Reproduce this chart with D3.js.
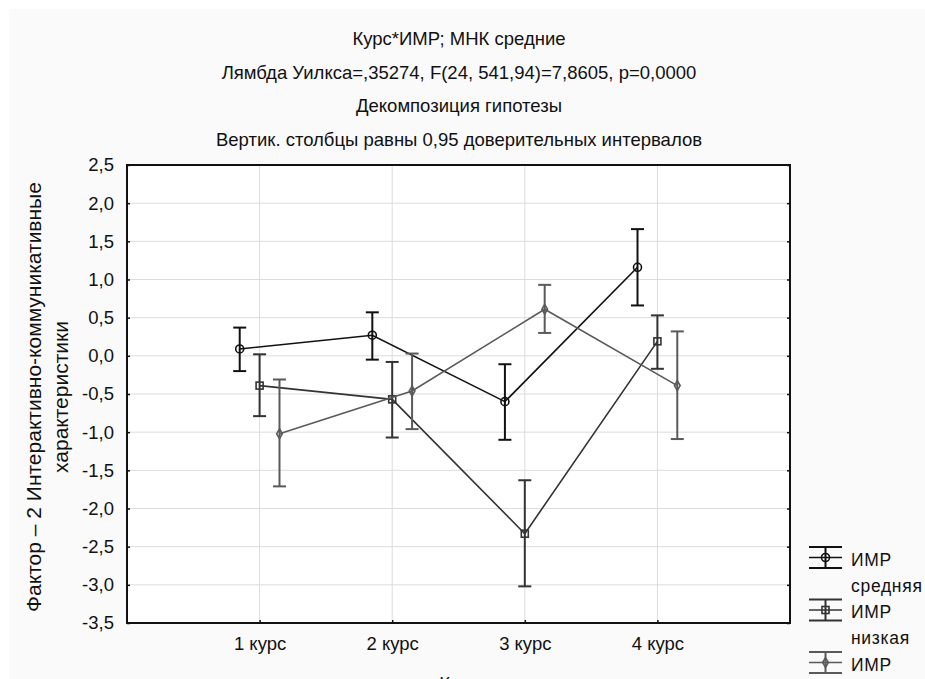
<!DOCTYPE html>
<html>
<head>
<meta charset="utf-8">
<script src="https://cdn.jsdelivr.net/npm/d3@7"></script>
<style>
  body { margin: 0; background: #fff; }
  text { font-family: "Liberation Sans", Arial, sans-serif; fill: #111; }
</style>
</head>
<body>
<div id="chart"></div>
<script>
// values
var courses = ["1 курс", "2 курс", "3 курс", "4 курс"];
var yTicks = [2.5, 2.0, 1.5, 1.0, 0.5, 0.0, -0.5, -1.0, -1.5, -2.0, -2.5, -3.0, -3.5];

var titleLines = [
  "Курс*ИМР; МНК средние",
  "Лямбда Уилкса=,35274, F(24, 541,94)=7,8605, p=0,0000",
  "Декомпозиция гипотезы",
  "Вертик. столбцы равны 0,95 доверительных интервалов"
];

// ИМР средняя
var midMean = [0.09, 0.27, -0.60, 1.16];
var midLow = [-0.20, -0.05, -1.10, 0.66];
var midHigh = [0.37, 0.57, -0.11, 1.66];
// ИМР низкая
var lowMean = [-0.39, -0.57, -2.33, 0.19];
var lowLow = [-0.79, -1.07, -3.02, -0.17];
var lowHigh = [0.02, -0.08, -1.63, 0.53];
// ИМР высокая
var highMean = [-1.02, -0.46, 0.61, -0.39];
var highLow = [-1.71, -0.96, 0.30, -1.09];
var highHigh = [-0.31, 0.03, 0.93, 0.32];

var width = 925;
var height = 679;
// plot frame (don't call it "top": window.top is read-only)
var plotLeft = 127, plotRight = 790, plotTop = 165, plotBottom = 623;
var fontSize = "18.5px";

var series = [
  {name: ["ИМР", "средняя"], mean: midMean, lo: midLow, hi: midHigh, color: "#111", shape: "circle", shift: -0.15},
  {name: ["ИМР", "низкая"], mean: lowMean, lo: lowLow, hi: lowHigh, color: "#333", shape: "square", shift: 0},
  {name: ["ИМР", "высокая"], mean: highMean, lo: highLow, hi: highHigh, color: "#5a5a5a", shape: "diamond", shift: 0.15}
];

var svg = d3.select("#chart").append("svg")
    .attr("width", width)
    .attr("height", height);

svg.append("rect").attr("x", 9).attr("y", 9)
   .attr("width", width - 9).attr("height", height - 9)
   .style("fill", "#fafafa");

var x = d3.scaleLinear().domain([0, 5]).range([plotLeft, plotRight]);
var y = d3.scaleLinear().domain([-3.5, 2.5]).range([plotBottom, plotTop]);

svg.append("rect").attr("x", plotLeft).attr("y", plotTop)
   .attr("width", plotRight - plotLeft).attr("height", plotBottom - plotTop)
   .style("fill", "#fff");

function fmt(v) {
  return d3.format(".1f")(v).replace(".", ",").replace("−", "-");
}

// grid lines
var grid = svg.append("g");
grid.selectAll(".gy").data(yTicks.slice(1, -1)).enter().append("line")
    .attr("x1", plotLeft).attr("x2", plotRight)
    .attr("y1", function(d) { return y(d); }).attr("y2", function(d) { return y(d); })
    .style("stroke", "#dcdcdc").style("stroke-width", 1);
grid.selectAll(".gx").data(courses).enter().append("line")
    .attr("x1", function(d, i) { return x(i + 1); }).attr("x2", function(d, i) { return x(i + 1); })
    .attr("y1", plotTop).attr("y2", plotBottom)
    .style("stroke", "#dcdcdc").style("stroke-width", 1);

// axes
var yAxis = d3.axisLeft(y).tickValues(yTicks).tickSize(-3).tickPadding(13).tickFormat(fmt);
var gy = svg.append("g").attr("transform", "translate(" + plotLeft + ",0)").call(yAxis);
var gy2 = svg.append("g").attr("transform", "translate(" + plotRight + ",0)")
    .call(d3.axisRight(y).tickValues(yTicks).tickSize(-3).tickFormat(""));

var xAxis = d3.axisBottom(d3.scalePoint().domain(courses).range([x(1), x(4)]))
    .tickSize(-3).tickPadding(14);
var gx = svg.append("g").attr("transform", "translate(0," + plotBottom + ")").call(xAxis);

[gy, gy2, gx].forEach(function(g) {
  g.select(".domain").remove();
  g.selectAll(".tick line").style("stroke", "#111").style("stroke-width", 1.5);
  g.selectAll("text").style("font-size", fontSize).style("fill", "#111");
});

svg.append("rect").attr("x", plotLeft).attr("y", plotTop)
   .attr("width", plotRight - plotLeft).attr("height", plotBottom - plotTop)
   .style("fill", "none").style("stroke", "#111").style("stroke-width", 2);

// titles
svg.selectAll(".title").data(titleLines).enter().append("text")
   .attr("x", 459).attr("y", function(d, i) { return 45 + i * 33.5; })
   .attr("text-anchor", "middle")
   .style("font-size", fontSize)
   .text(function(d) { return d; });

// axis titles
var yl = svg.append("text").attr("transform", "translate(0,397) rotate(-90)")
   .attr("text-anchor", "middle").style("font-size", "21px");
yl.append("tspan").attr("x", 0).attr("y", 41).text("Фактор – 2 Интерактивно-коммуникативные");
yl.append("tspan").attr("x", 0).attr("y", 68).text("характеристики");

svg.append("text").attr("x", 459).attr("y", 690).attr("text-anchor", "middle")
   .style("font-size", fontSize).text("Курс");

// markers
function drawMarker(g, shape, cx, cy, color) {
  if (shape === "circle") {
    g.append("circle").attr("cx", cx).attr("cy", cy).attr("r", 4)
     .style("fill", "none").style("stroke", color).style("stroke-width", 1.6);
  } else if (shape === "square") {
    g.append("rect").attr("x", cx - 3.5).attr("y", cy - 3.5).attr("width", 7).attr("height", 7)
     .style("fill", "none").style("stroke", color).style("stroke-width", 1.6);
  } else {
    g.append("path").attr("d", d3.symbol().type(d3.symbolDiamond).size(28)())
     .attr("transform", "translate(" + cx + "," + cy + ")")
     .style("fill", "none").style("stroke", color).style("stroke-width", 1.6);
  }
}

var plot = svg.append("g");
series.forEach(function(s) {
  var g = plot.append("g");
  var pts = s.mean.map(function(v, i) { return [x(i + 1 + s.shift), y(v)]; });
  g.append("path").attr("d", d3.line()(pts))
   .style("fill", "none").style("stroke", s.color).style("stroke-width", 1.6);
  s.mean.forEach(function(v, i) {
    var cx = x(i + 1 + s.shift);
    g.append("line").attr("x1", cx).attr("x2", cx).attr("y1", y(s.lo[i])).attr("y2", y(s.hi[i]))
     .style("stroke", s.color).style("stroke-width", 2);
    [s.lo[i], s.hi[i]].forEach(function(e) {
      g.append("line").attr("x1", cx - 6.5).attr("x2", cx + 6.5).attr("y1", y(e)).attr("y2", y(e))
       .style("stroke", s.color).style("stroke-width", 2);
    });
    drawMarker(g, s.shape, cx, y(v), s.color);
  });
});

// legend
var legend = svg.append("g");
series.forEach(function(s, k) {
  var cy = 557.5 + k * 52.5;
  var g = legend.append("g");
  [-10.5, 10.5].forEach(function(dy) {
    g.append("line").attr("x1", 809).attr("x2", 842).attr("y1", cy + dy).attr("y2", cy + dy)
     .style("stroke", s.color).style("stroke-width", 2);
  });
  g.append("line").attr("x1", 809).attr("x2", 842).attr("y1", cy).attr("y2", cy)
   .style("stroke", s.color).style("stroke-width", 1.6);
  g.append("line").attr("x1", 825.5).attr("x2", 825.5).attr("y1", cy - 10.5).attr("y2", cy + 10.5)
   .style("stroke", s.color).style("stroke-width", 2);
  drawMarker(g, s.shape, 825.5, cy, s.color);
  s.name.forEach(function(t, j) {
    g.append("text").attr("x", 851).attr("y", cy + 8 + j * 26)
     .style("font-size", "17.5px").style("letter-spacing", "0.7px").text(t);
  });
});
</script>
</body>
</html>
